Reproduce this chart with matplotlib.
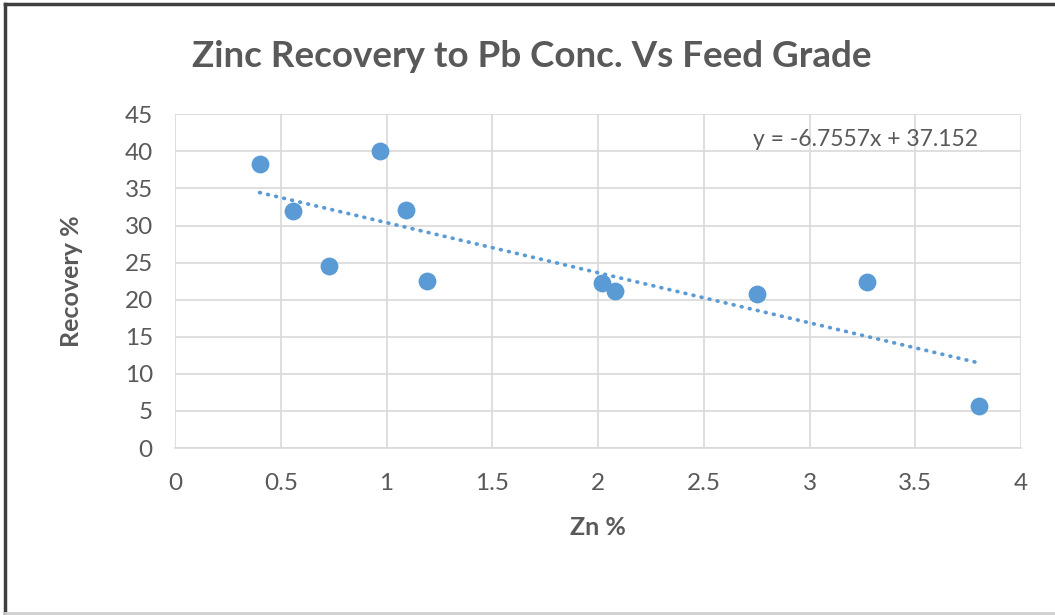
import numpy as np
import matplotlib.pyplot as plt
from matplotlib.lines import Line2D

# Zn feed grade (%) vs zinc recovery to Pb concentrate (%)
zn_grade = [0.40, 0.56, 0.73, 0.97, 1.09, 1.19, 2.02, 2.08, 2.75, 3.27, 3.80]
recovery = [38.3, 31.9, 24.6, 40.0, 32.1, 22.5, 22.2, 21.2, 20.8, 22.4, 5.7]

# linear trendline coefficients
slope = -6.7557
intercept = 37.152

x_ticks = [0, 0.5, 1, 1.5, 2, 2.5, 3, 3.5, 4]
x_labels = ['0', '0.5', '1', '1.5', '2', '2.5', '3', '3.5', '4']
y_ticks = [0, 5, 10, 15, 20, 25, 30, 35, 40, 45]

blue = '#5B9BD5'
grey_txt = '#595959'
grid_col = '#D9D9D9'

plt.rcParams['font.family'] = ['Lato', 'DejaVu Sans']

fig = plt.figure(figsize=(10.55, 6.15), dpi=100)
ax = fig.add_axes([0.1659, 0.2715, 0.8019, 0.5426])

ax.scatter(zn_grade, recovery, s=165, color=blue, zorder=3, linewidths=0)

xt = np.array([min(zn_grade), max(zn_grade)])
ax.plot(xt, slope * xt + intercept, color=blue, lw=2.7, ls=(0, (0.2, 2.0)),
        dash_capstyle='round', zorder=2)

ax.set_xlim(0, 4)
ax.set_ylim(0, 45)
ax.set_xticks(x_ticks)
ax.set_xticklabels(x_labels)
ax.set_yticks(y_ticks)
ax.grid(True, color=grid_col, lw=1.2)
ax.set_axisbelow(True)
for s in ['top', 'right', 'left']:
    ax.spines[s].set_visible(False)
ax.spines['bottom'].set_color(grid_col)
ax.spines['bottom'].set_linewidth(1.2)
ax.tick_params(length=0, labelsize=17.5, colors=grey_txt)
ax.tick_params(axis='x', pad=18)
ax.tick_params(axis='y', pad=16)

ax.set_xlabel('Zn %', fontsize=18, fontweight='bold', color=grey_txt, labelpad=16)
ax.set_ylabel('Recovery %', fontsize=18, fontweight='bold', color=grey_txt, labelpad=30)

ax.text(2.735, 40.2, 'y = -6.7557x + 37.152', fontsize=16.5, color=grey_txt,
        va='bottom', ha='left')

fig.text(0.504, 0.908, 'Zinc Recovery to Pb Conc. Vs Feed Grade', ha='center',
         va='center', fontsize=26.5, fontweight='bold', color=grey_txt)

# outer chart frame
fig.add_artist(Line2D([0.005, 1.0], [0.994, 0.994], transform=fig.transFigure,
                      color='#404040', lw=2.5))
fig.add_artist(Line2D([0.005, 0.005], [0.0, 0.994], transform=fig.transFigure,
                      color='#404040', lw=2.5))
fig.add_artist(Line2D([0.005, 1.0], [0.003, 0.003], transform=fig.transFigure,
                      color='#D0D0D0', lw=2))

fig.savefig('out.png', dpi=100, facecolor='white')
